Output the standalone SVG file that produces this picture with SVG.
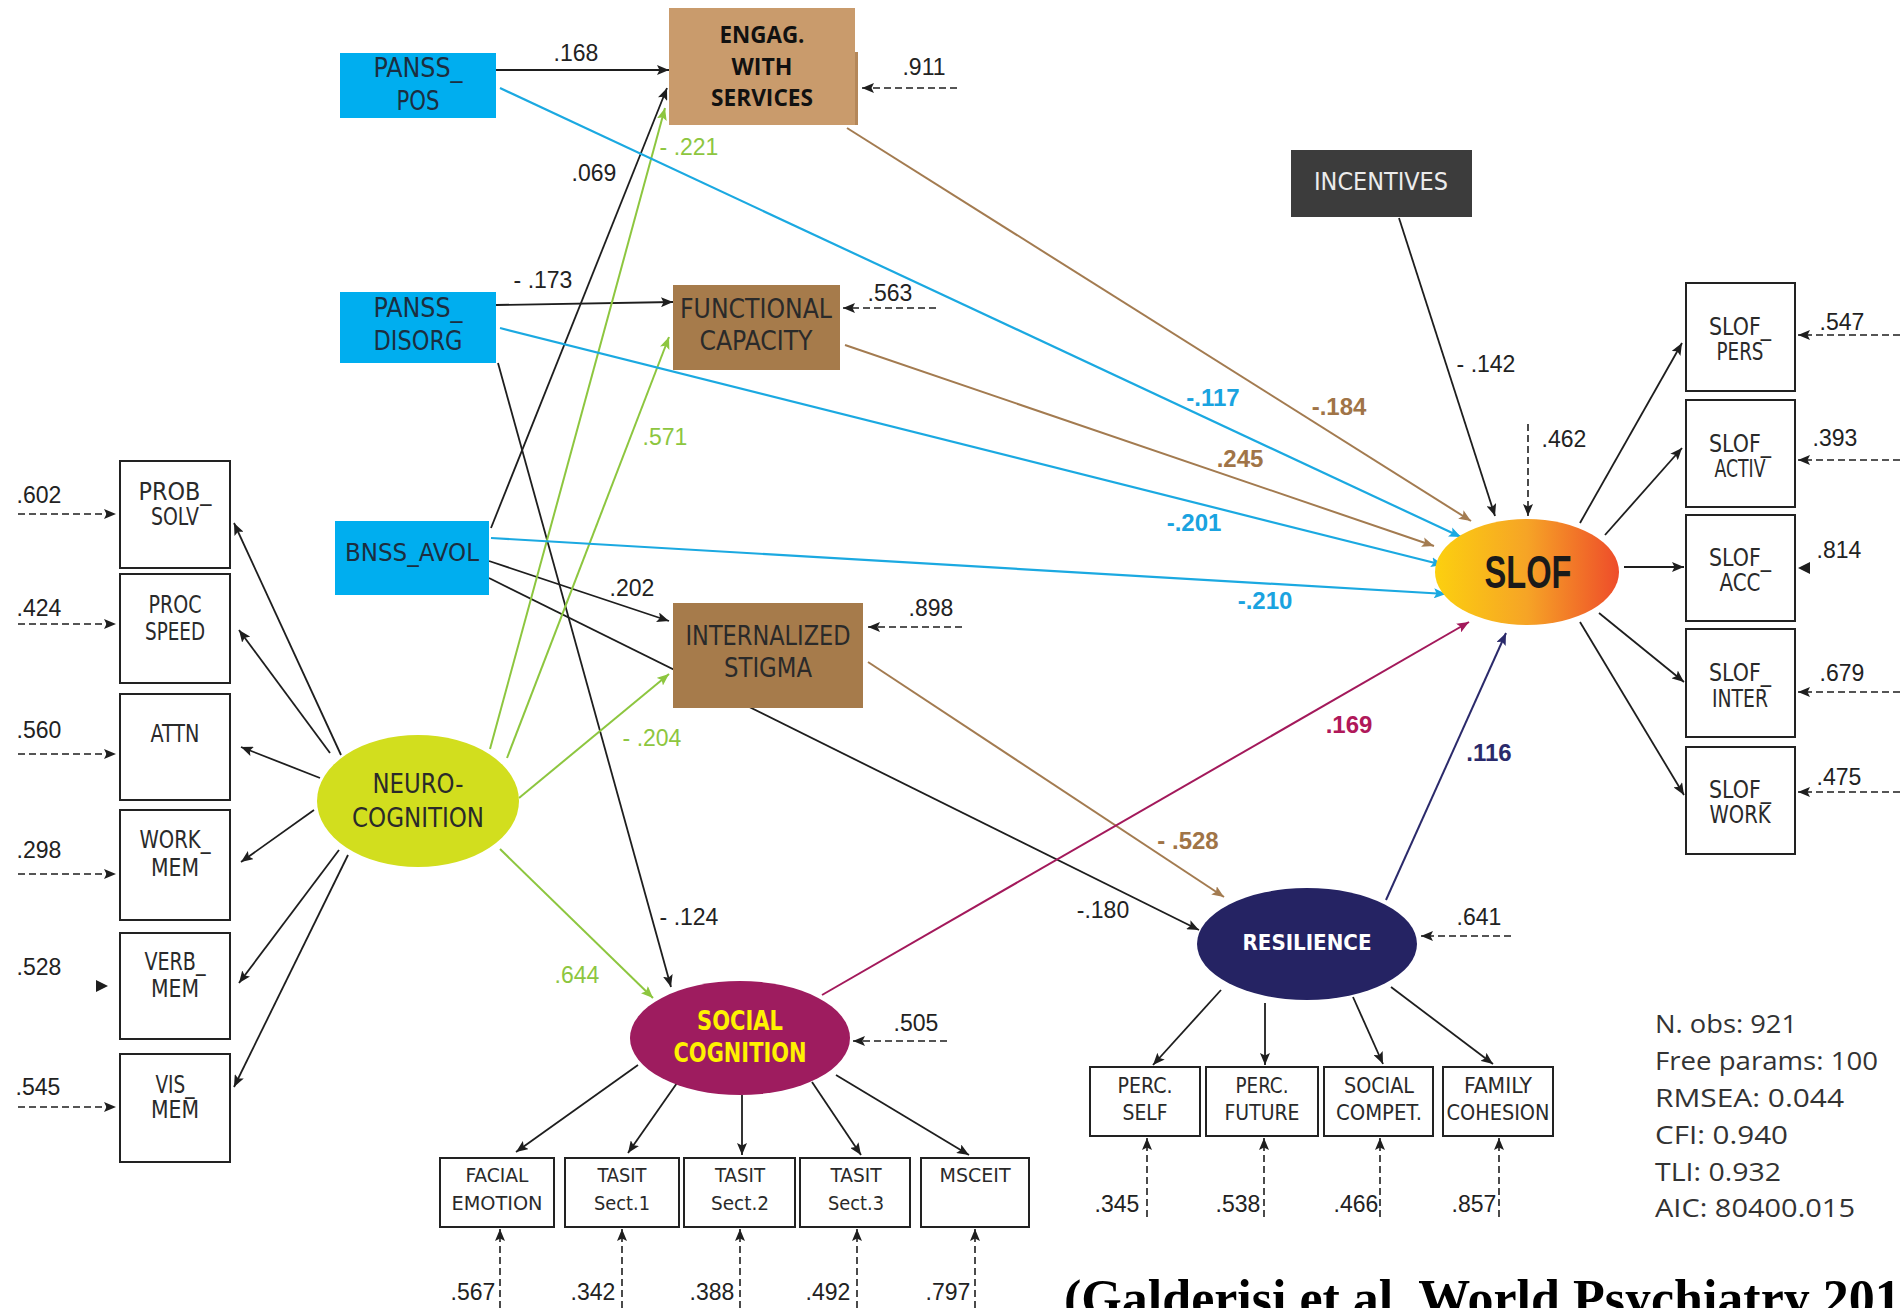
<svg xmlns="http://www.w3.org/2000/svg" width="1901" height="1308" viewBox="0 0 1901 1308">
  <defs>
    <style>
      .k { stroke:#1e1e1e; stroke-width:1.8; fill:none; marker-end:url(#ah-k); }
      .d { stroke:#1e1e1e; stroke-width:1.6; fill:none; stroke-dasharray:7 4; marker-end:url(#ah-k); }
      .bl { stroke:#1ba9e1; stroke-width:2.2; fill:none; marker-end:url(#ah-b); }
      .tn { stroke:#a37b50; stroke-width:2; fill:none; marker-end:url(#ah-t); }
      .gr { stroke:#8dc63f; stroke-width:2; fill:none; marker-end:url(#ah-g); }
      .mg { stroke:#a3195b; stroke-width:2; fill:none; marker-end:url(#ah-m); }
      .nv { stroke:#2b2a6b; stroke-width:2; fill:none; marker-end:url(#ah-n); }
      .box { fill:#ffffff; stroke:#222222; stroke-width:2; }
      .cond { font-family:'Liberation Sans Narrow','DejaVu Sans Condensed','Arial Narrow',sans-serif; text-anchor:middle; fill:#2a2a2a; }
      .num { font-family:'Liberation Sans',Arial,sans-serif; font-size:23px; text-anchor:middle; fill:#222222; }
      .bnum { font-family:'Liberation Sans',Arial,sans-serif; font-size:24px; font-weight:bold; text-anchor:middle; }
      .green { fill:#8dc63f; }
      .stat { font-family:'Open Sans','DejaVu Sans',sans-serif; font-size:26px; fill:#333333; }
    </style>
    <marker id="ah-k" viewBox="0 0 12 10" refX="12" refY="5" markerWidth="12" markerHeight="10" markerUnits="userSpaceOnUse" orient="auto"><path d="M0,0 L12,5 L0,10 L2.5,5 z" fill="#1e1e1e"/></marker>
    <marker id="ah-b" viewBox="0 0 12 10" refX="12" refY="5" markerWidth="12" markerHeight="10" markerUnits="userSpaceOnUse" orient="auto"><path d="M0,0 L12,5 L0,10 L2.5,5 z" fill="#1ba9e1"/></marker>
    <marker id="ah-t" viewBox="0 0 12 10" refX="12" refY="5" markerWidth="12" markerHeight="10" markerUnits="userSpaceOnUse" orient="auto"><path d="M0,0 L12,5 L0,10 L2.5,5 z" fill="#a37b50"/></marker>
    <marker id="ah-g" viewBox="0 0 12 10" refX="12" refY="5" markerWidth="12" markerHeight="10" markerUnits="userSpaceOnUse" orient="auto"><path d="M0,0 L12,5 L0,10 L2.5,5 z" fill="#8dc63f"/></marker>
    <marker id="ah-m" viewBox="0 0 12 10" refX="12" refY="5" markerWidth="12" markerHeight="10" markerUnits="userSpaceOnUse" orient="auto"><path d="M0,0 L12,5 L0,10 L2.5,5 z" fill="#a3195b"/></marker>
    <marker id="ah-n" viewBox="0 0 12 10" refX="12" refY="5" markerWidth="12" markerHeight="10" markerUnits="userSpaceOnUse" orient="auto"><path d="M0,0 L12,5 L0,10 L2.5,5 z" fill="#2b2a6b"/></marker>
    <linearGradient id="slofGrad" x1="0" y1="0" x2="1" y2="0">
      <stop offset="0" stop-color="#fcd00f"/>
      <stop offset="0.5" stop-color="#f6a426"/>
      <stop offset="1" stop-color="#ee4c2a"/>
    </linearGradient>
  </defs>

  <rect x="0" y="0" width="1901" height="1308" fill="#ffffff"/>

  <!-- paths between variables -->
  <g id="connectors">
    <!-- structural paths -->
    <path class="k" d="M496,70 L669,70"/>
    <path class="k" d="M496,305 L673,302"/>
    <path class="k" d="M491,528 L667,88"/>
    <path class="k" d="M498,363 L671,987"/>
    <path class="k" d="M489,561 L669,621"/>
    <path class="k" d="M489,578 L1199,930"/>
    <path class="k" d="M1399,218 L1495,516"/>
    <path class="gr" d="M490,749 L665,108"/>
    <path class="gr" d="M507,758 L669,337"/>
    <path class="gr" d="M519,798 L669,674"/>
    <path class="gr" d="M500,849 L653,998"/>
    <path class="tn" d="M847,128 L1471,521"/>
    <path class="tn" d="M845,345 L1434,546"/>
    <path class="tn" d="M868,662 L1224,897"/>
    <path class="bl" d="M500,88 L1461,537"/>
    <path class="bl" d="M500,328 L1443,565"/>
    <path class="bl" d="M491,538 L1446,594"/>
    <path class="mg" d="M822,995 L1469,622"/>
    <path class="nv" d="M1386,900 L1506,633"/>

    <!-- neurocognition indicators -->
    <path class="k" d="M341,755 L234,523"/>
    <path class="k" d="M330,753 L239,630"/>
    <path class="k" d="M320,778 L241,747"/>
    <path class="k" d="M314,810 L241,862"/>
    <path class="k" d="M339,850 L239,983"/>
    <path class="k" d="M348,855 L234,1087"/>

    <!-- SLOF indicators -->
    <path class="k" d="M1580,523 L1682,343"/>
    <path class="k" d="M1605,535 L1682,448"/>
    <path class="k" d="M1624,567 L1684,567"/>
    <path class="k" d="M1599,613 L1684,682"/>
    <path class="k" d="M1580,622 L1684,795"/>

    <!-- social cognition indicators -->
    <path class="k" d="M638,1065 L516,1152"/>
    <path class="k" d="M677,1083 L628,1153"/>
    <path class="k" d="M742,1095 L742,1155"/>
    <path class="k" d="M812,1082 L861,1155"/>
    <path class="k" d="M836,1075 L969,1155"/>

    <!-- resilience indicators -->
    <path class="k" d="M1221,990 L1153,1065"/>
    <path class="k" d="M1265,1003 L1265,1065"/>
    <path class="k" d="M1353,997 L1383,1064"/>
    <path class="k" d="M1391,987 L1493,1064"/>

    <!-- residual terms -->
    <path class="d" d="M957,88 L862,88"/>
    <path class="d" d="M936,308 L843,308"/>
    <path class="d" d="M962,627 L868,627"/>
    <path class="d" d="M947,1041 L853,1041"/>
    <path class="d" d="M1511,936 L1421,936"/>
    <path class="d" d="M1528,424 L1528,516"/>
    <path class="d" d="M1900,335 L1798,335"/>
    <path class="d" d="M1900,460 L1798,460"/>
    <path class="d" d="M1900,692 L1798,692"/>
    <path class="d" d="M1900,792 L1798,792"/>
    <path d="M1798,568 L1810,562 L1810,574 z" fill="#1e1e1e"/>
    <path class="d" d="M18,514 L116,514"/>
    <path class="d" d="M18,624 L116,624"/>
    <path class="d" d="M18,754 L116,754"/>
    <path class="d" d="M18,874 L116,874"/>
    <path class="d" d="M18,1107 L116,1107"/>
    <path d="M108,986 L96,980 L96,992 z" fill="#1e1e1e"/>
    <path class="d" d="M500,1308 L500,1229"/>
    <path class="d" d="M622,1308 L622,1229"/>
    <path class="d" d="M740,1308 L740,1229"/>
    <path class="d" d="M857,1308 L857,1229"/>
    <path class="d" d="M975,1308 L975,1229"/>
    <path class="d" d="M1147,1217 L1147,1138"/>
    <path class="d" d="M1264,1217 L1264,1138"/>
    <path class="d" d="M1380,1217 L1380,1138"/>
    <path class="d" d="M1499,1217 L1499,1138"/>
  </g>

  <!-- path coefficients and residual variances -->
  <g id="coefficients">
    <text class="num" x="576" y="61">.168</text>
    <text class="num" x="543" y="288">- .173</text>
    <text class="num" x="594" y="181">.069</text>
    <text class="num" x="632" y="596">.202</text>
    <text class="num" x="689" y="925">- .124</text>
    <text class="num" x="1103" y="918">-.180</text>
    <text class="num" x="1486" y="372">- .142</text>
    <text class="num green" x="689" y="155">- .221</text>
    <text class="num green" x="665" y="445">.571</text>
    <text class="num green" x="652" y="746">- .204</text>
    <text class="num green" x="577" y="983">.644</text>
    <text class="bnum" x="1213" y="406" fill="#1aa3e0">-.117</text>
    <text class="bnum" x="1194" y="531" fill="#1aa3e0">-.201</text>
    <text class="bnum" x="1265" y="609" fill="#1aa3e0">-.210</text>
    <text class="bnum" x="1339" y="415" fill="#a07447">-.184</text>
    <text class="bnum" x="1240" y="467" fill="#a07447">.245</text>
    <text class="bnum" x="1188" y="849" fill="#a07447">- .528</text>
    <text class="bnum" x="1349" y="733" fill="#b0185a">.169</text>
    <text class="bnum" x="1489" y="761" fill="#2b2a6b">.116</text>

    <text class="num" x="924" y="75">.911</text>
    <text class="num" x="890" y="301">.563</text>
    <text class="num" x="931" y="616">.898</text>
    <text class="num" x="916" y="1031">.505</text>
    <text class="num" x="1479" y="925">.641</text>
    <text class="num" x="1564" y="447">.462</text>

    <text class="num" x="1842" y="330" font-size="21">.547</text>
    <text class="num" x="1835" y="446" font-size="21">.393</text>
    <text class="num" x="1839" y="558" font-size="21">.814</text>
    <text class="num" x="1842" y="681" font-size="21">.679</text>
    <text class="num" x="1839" y="785" font-size="21">.475</text>

    <text class="num" x="39" y="503" font-size="21">.602</text>
    <text class="num" x="39" y="616" font-size="21">.424</text>
    <text class="num" x="39" y="738" font-size="21">.560</text>
    <text class="num" x="39" y="858" font-size="21">.298</text>
    <text class="num" x="39" y="975" font-size="21">.528</text>
    <text class="num" x="38" y="1095" font-size="21">.545</text>

    <text class="num" x="473" y="1300" font-size="21">.567</text>
    <text class="num" x="593" y="1300" font-size="21">.342</text>
    <text class="num" x="712" y="1300" font-size="21">.388</text>
    <text class="num" x="828" y="1300" font-size="21">.492</text>
    <text class="num" x="948" y="1300" font-size="21">.797</text>

    <text class="num" x="1117" y="1212" font-size="20">.345</text>
    <text class="num" x="1238" y="1212" font-size="20">.538</text>
    <text class="num" x="1356" y="1212" font-size="20">.466</text>
    <text class="num" x="1474" y="1212" font-size="20">.857</text>
  </g>

  <!-- exogenous symptom measures -->
  <g id="node-panss-pos">
    <rect x="340" y="53" width="156" height="65" fill="#00aeef"/>
    <text class="cond" x="418" y="77" font-size="27" textLength="89" lengthAdjust="spacingAndGlyphs" style="fill:#1c2e40">PANSS_</text>
    <text class="cond" x="418" y="110" font-size="27" textLength="43" lengthAdjust="spacingAndGlyphs" style="fill:#1c2e40">POS</text>
  </g>
  <g id="node-panss-disorg">
    <rect x="340" y="292" width="156" height="71" fill="#00aeef"/>
    <text class="cond" x="418" y="317" font-size="27" textLength="89" lengthAdjust="spacingAndGlyphs" style="fill:#1c2e40">PANSS_</text>
    <text class="cond" x="418" y="350" font-size="27" textLength="89" lengthAdjust="spacingAndGlyphs" style="fill:#1c2e40">DISORG</text>
  </g>
  <g id="node-bnss-avol">
    <rect x="335" y="521" width="154" height="74" fill="#00aeef"/>
    <text class="cond" x="412" y="561" font-size="25" textLength="134" lengthAdjust="spacingAndGlyphs" style="fill:#1c2e40">BNSS_AVOL</text>
  </g>
  <g id="node-incentives">
    <rect x="1291" y="150" width="181" height="67" fill="#3c3c3c"/>
    <text class="cond" x="1381" y="190" font-size="24" textLength="134" lengthAdjust="spacingAndGlyphs" style="fill:#ececec">INCENTIVES</text>
  </g>

  <!-- mediators -->
  <g id="node-engagement">
    <rect x="669" y="8" width="186" height="117" fill="#c99b6c"/>
    <rect x="855" y="52" width="3" height="73" fill="#b48759"/>
    <text x="762" y="43" font-family="'Open Sans','Liberation Sans',sans-serif" font-weight="bold" font-size="23" text-anchor="middle" fill="#111111" textLength="85" lengthAdjust="spacingAndGlyphs">ENGAG.</text>
    <text x="762" y="75" font-family="'Open Sans','Liberation Sans',sans-serif" font-weight="bold" font-size="23" text-anchor="middle" fill="#111111" textLength="61" lengthAdjust="spacingAndGlyphs">WITH</text>
    <text x="762" y="106" font-family="'Open Sans','Liberation Sans',sans-serif" font-weight="bold" font-size="23" text-anchor="middle" fill="#111111" textLength="102" lengthAdjust="spacingAndGlyphs">SERVICES</text>
  </g>
  <g id="node-functional-capacity">
    <rect x="673" y="285" width="167" height="85" fill="#a67b4b"/>
    <text class="cond" x="756" y="318" font-size="27" textLength="152" lengthAdjust="spacingAndGlyphs">FUNCTIONAL</text>
    <text class="cond" x="756" y="350" font-size="27" textLength="113" lengthAdjust="spacingAndGlyphs">CAPACITY</text>
  </g>
  <g id="node-internalized-stigma">
    <rect x="673" y="603" width="190" height="105" fill="#a67b4b"/>
    <text class="cond" x="768" y="645" font-size="27" textLength="165" lengthAdjust="spacingAndGlyphs">INTERNALIZED</text>
    <text class="cond" x="768" y="677" font-size="27" textLength="88" lengthAdjust="spacingAndGlyphs">STIGMA</text>
  </g>

  <!-- latent variables -->
  <g id="node-neurocognition">
    <ellipse cx="418" cy="801" rx="101" ry="66" fill="#d2de1e"/>
    <text class="cond" x="418" y="793" font-size="26" textLength="91" lengthAdjust="spacingAndGlyphs">NEURO-</text>
    <text class="cond" x="418" y="827" font-size="26" textLength="132" lengthAdjust="spacingAndGlyphs">COGNITION</text>
  </g>
  <g id="node-social-cognition">
    <ellipse cx="740" cy="1038" rx="110" ry="57" fill="#9e1c5f"/>
    <text class="cond" x="740" y="1030" font-size="27" font-weight="bold" textLength="86" lengthAdjust="spacingAndGlyphs" style="fill:#fff200">SOCIAL</text>
    <text class="cond" x="740" y="1062" font-size="27" font-weight="bold" textLength="133" lengthAdjust="spacingAndGlyphs" style="fill:#fff200">COGNITION</text>
  </g>
  <g id="node-resilience">
    <ellipse cx="1307" cy="944" rx="110" ry="56" fill="#252363"/>
    <text class="cond" x="1307" y="950" font-size="22" font-weight="bold" textLength="129" lengthAdjust="spacingAndGlyphs" style="fill:#ffffff">RESILIENCE</text>
  </g>
  <g id="node-slof">
    <ellipse cx="1527" cy="572" rx="92" ry="53" fill="url(#slofGrad)"/>
    <text x="1528" y="588" font-family="'Liberation Sans',Arial,sans-serif" font-weight="bold" font-size="46" text-anchor="middle" fill="#1a1a1a" textLength="87" lengthAdjust="spacingAndGlyphs">SLOF</text>
  </g>

  <!-- neurocognition indicators -->
  <g id="node-prob-solv">
    <rect class="box" x="120" y="461" width="110" height="107"/>
    <text class="cond" x="175" y="500" font-size="24" textLength="73" lengthAdjust="spacingAndGlyphs">PROB_</text>
    <text class="cond" x="175" y="525" font-size="24" textLength="48" lengthAdjust="spacingAndGlyphs">SOLV</text>
  </g>
  <g id="node-proc-speed">
    <rect class="box" x="120" y="574" width="110" height="109"/>
    <text class="cond" x="175" y="613" font-size="24" textLength="53" lengthAdjust="spacingAndGlyphs">PROC</text>
    <text class="cond" x="175" y="640" font-size="24" textLength="60" lengthAdjust="spacingAndGlyphs">SPEED</text>
  </g>
  <g id="node-attn">
    <rect class="box" x="120" y="694" width="110" height="106"/>
    <text class="cond" x="175" y="742" font-size="24" textLength="49" lengthAdjust="spacingAndGlyphs">ATTN</text>
  </g>
  <g id="node-work-mem">
    <rect class="box" x="120" y="810" width="110" height="110"/>
    <text class="cond" x="175" y="848" font-size="24" textLength="71" lengthAdjust="spacingAndGlyphs">WORK_</text>
    <text class="cond" x="175" y="876" font-size="24" textLength="48" lengthAdjust="spacingAndGlyphs">MEM</text>
  </g>
  <g id="node-verb-mem">
    <rect class="box" x="120" y="933" width="110" height="106"/>
    <text class="cond" x="175" y="970" font-size="24" textLength="61" lengthAdjust="spacingAndGlyphs">VERB_</text>
    <text class="cond" x="175" y="997" font-size="24" textLength="48" lengthAdjust="spacingAndGlyphs">MEM</text>
  </g>
  <g id="node-vis-mem">
    <rect class="box" x="120" y="1054" width="110" height="108"/>
    <text class="cond" x="175" y="1093" font-size="24" textLength="39" lengthAdjust="spacingAndGlyphs">VIS_</text>
    <text class="cond" x="175" y="1118" font-size="24" textLength="48" lengthAdjust="spacingAndGlyphs">MEM</text>
  </g>

  <!-- social cognition indicators -->
  <g id="node-facial-emotion">
    <rect class="box" x="440" y="1158" width="114" height="69"/>
    <text class="cond" x="497" y="1182" font-size="20" textLength="63" lengthAdjust="spacingAndGlyphs">FACIAL</text>
    <text class="cond" x="497" y="1210" font-size="20" textLength="91" lengthAdjust="spacingAndGlyphs">EMOTION</text>
  </g>
  <g id="node-tasit-1">
    <rect class="box" x="565" y="1158" width="114" height="69"/>
    <text class="cond" x="622" y="1182" font-size="20" textLength="49" lengthAdjust="spacingAndGlyphs">TASIT</text>
    <text class="cond" x="622" y="1210" font-size="20" textLength="56" lengthAdjust="spacingAndGlyphs">Sect.1</text>
  </g>
  <g id="node-tasit-2">
    <rect class="box" x="684" y="1158" width="111" height="69"/>
    <text class="cond" x="740" y="1182" font-size="20" textLength="50" lengthAdjust="spacingAndGlyphs">TASIT</text>
    <text class="cond" x="740" y="1210" font-size="20" textLength="58" lengthAdjust="spacingAndGlyphs">Sect.2</text>
  </g>
  <g id="node-tasit-3">
    <rect class="box" x="800" y="1158" width="110" height="69"/>
    <text class="cond" x="856" y="1182" font-size="20" textLength="51" lengthAdjust="spacingAndGlyphs">TASIT</text>
    <text class="cond" x="856" y="1210" font-size="20" textLength="56" lengthAdjust="spacingAndGlyphs">Sect.3</text>
  </g>
  <g id="node-msceit">
    <rect class="box" x="921" y="1158" width="108" height="69"/>
    <text class="cond" x="975" y="1182" font-size="20" textLength="71" lengthAdjust="spacingAndGlyphs">MSCEIT</text>
  </g>

  <!-- resilience indicators -->
  <g id="node-perc-self">
    <rect class="box" x="1090" y="1067" width="110" height="69"/>
    <text class="cond" x="1145" y="1093" font-size="22" textLength="55" lengthAdjust="spacingAndGlyphs">PERC.</text>
    <text class="cond" x="1145" y="1120" font-size="22" textLength="45" lengthAdjust="spacingAndGlyphs">SELF</text>
  </g>
  <g id="node-perc-future">
    <rect class="box" x="1206" y="1067" width="112" height="69"/>
    <text class="cond" x="1262" y="1093" font-size="22" textLength="53" lengthAdjust="spacingAndGlyphs">PERC.</text>
    <text class="cond" x="1262" y="1120" font-size="22" textLength="75" lengthAdjust="spacingAndGlyphs">FUTURE</text>
  </g>
  <g id="node-social-compet">
    <rect class="box" x="1324" y="1067" width="109" height="69"/>
    <text class="cond" x="1379" y="1093" font-size="22" textLength="70" lengthAdjust="spacingAndGlyphs">SOCIAL</text>
    <text class="cond" x="1379" y="1120" font-size="22" textLength="86" lengthAdjust="spacingAndGlyphs">COMPET.</text>
  </g>
  <g id="node-family-cohesion">
    <rect class="box" x="1443" y="1067" width="110" height="69"/>
    <text class="cond" x="1498" y="1093" font-size="22" textLength="68" lengthAdjust="spacingAndGlyphs">FAMILY</text>
    <text class="cond" x="1498" y="1120" font-size="22" textLength="103" lengthAdjust="spacingAndGlyphs">COHESION</text>
  </g>

  <!-- SLOF indicators -->
  <g id="node-slof-pers">
    <rect class="box" x="1686" y="283" width="109" height="108"/>
    <text class="cond" x="1740" y="335" font-size="24" textLength="62" lengthAdjust="spacingAndGlyphs">SLOF_</text>
    <text class="cond" x="1740" y="360" font-size="24" textLength="47" lengthAdjust="spacingAndGlyphs">PERS</text>
  </g>
  <g id="node-slof-activ">
    <rect class="box" x="1686" y="400" width="109" height="107"/>
    <text class="cond" x="1740" y="452" font-size="24" textLength="62" lengthAdjust="spacingAndGlyphs">SLOF_</text>
    <text class="cond" x="1740" y="477" font-size="24" textLength="51" lengthAdjust="spacingAndGlyphs">ACTIV</text>
  </g>
  <g id="node-slof-acc">
    <rect class="box" x="1686" y="515" width="109" height="106"/>
    <text class="cond" x="1740" y="566" font-size="24" textLength="62" lengthAdjust="spacingAndGlyphs">SLOF_</text>
    <text class="cond" x="1740" y="591" font-size="24" textLength="41" lengthAdjust="spacingAndGlyphs">ACC</text>
  </g>
  <g id="node-slof-inter">
    <rect class="box" x="1686" y="629" width="109" height="108"/>
    <text class="cond" x="1740" y="681" font-size="24" textLength="62" lengthAdjust="spacingAndGlyphs">SLOF_</text>
    <text class="cond" x="1740" y="707" font-size="24" textLength="56" lengthAdjust="spacingAndGlyphs">INTER</text>
  </g>
  <g id="node-slof-work">
    <rect class="box" x="1686" y="747" width="109" height="107"/>
    <text class="cond" x="1740" y="798" font-size="24" textLength="62" lengthAdjust="spacingAndGlyphs">SLOF_</text>
    <text class="cond" x="1740" y="823" font-size="24" textLength="61" lengthAdjust="spacingAndGlyphs">WORK</text>
  </g>

  <!-- model fit -->
  <g id="fit-stats">
    <text class="stat" x="1655" y="1033" textLength="142" lengthAdjust="spacingAndGlyphs">N. obs: 921</text>
    <text class="stat" x="1655" y="1070" textLength="223" lengthAdjust="spacingAndGlyphs">Free params: 100</text>
    <text class="stat" x="1655" y="1107" textLength="189" lengthAdjust="spacingAndGlyphs">RMSEA: 0.044</text>
    <text class="stat" x="1655" y="1144" textLength="133" lengthAdjust="spacingAndGlyphs">CFI: 0.940</text>
    <text class="stat" x="1655" y="1181" textLength="126" lengthAdjust="spacingAndGlyphs">TLI: 0.932</text>
    <text class="stat" x="1655" y="1217" textLength="200" lengthAdjust="spacingAndGlyphs">AIC: 80400.015</text>
  </g>

  <text x="1064" y="1316" font-family="'Liberation Serif','Times New Roman',serif" font-weight="bold" font-size="52" fill="#000000">(Galderisi et al. World Psychiatry 201</text>
</svg>
